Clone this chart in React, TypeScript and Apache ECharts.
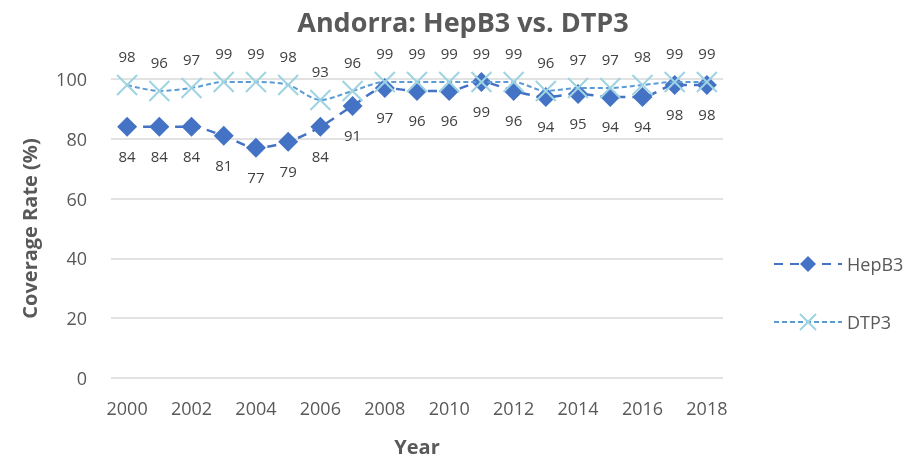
import React, { useEffect, useRef } from "react";
import * as echarts from "echarts";

const years = ["2000","2001","2002","2003","2004","2005","2006","2007","2008","2009","2010","2011","2012","2013","2014","2015","2016","2017","2018"];
const hepB3 = [84,84,84,81,77,79,84,91,97,96,96,99,96,94,95,94,94,98,98];
const dtp3 = [98,96,97,99,99,98,93,96,99,99,99,99,99,96,97,97,98,99,99];

const FONT = "'Open Sans', 'Noto Sans', sans-serif";

export default function App() {
  const ref = useRef<HTMLDivElement>(null);
  useEffect(() => {
    if (!ref.current) return;
    const chart = echarts.init(ref.current, undefined, { renderer: "svg" });
    chart.setOption({
      animation: false,
      textStyle: { fontFamily: FONT },
      title: {
        text: "Andorra: HepB3 vs. DTP3",
        left: 458,
        top: 3,
        textAlign: "center",
        textStyle: { fontSize: 27, fontWeight: "bold", color: "#595959", fontFamily: FONT },
      },
      grid: { left: 111, right: 191, top: 79, bottom: 84 },
      legend: {
        orient: "vertical",
        left: 768,
        top: 250,
        itemGap: 40,
        itemWidth: 68,
        itemHeight: 20,
        textStyle: { fontSize: 18, color: "#595959", fontFamily: FONT },
        data: ["HepB3", "DTP3"],
      },
      xAxis: {
        type: "category",
        data: years,
        boundaryGap: true,
        name: "Year",
        nameLocation: "middle",
        nameGap: 58,
        nameTextStyle: { fontSize: 20, fontWeight: "bold", color: "#595959" },
        axisLine: { show: false },
        axisTick: { show: false },
        axisLabel: { interval: 1, fontSize: 18, color: "#595959", margin: 21 },
      },
      yAxis: {
        type: "value",
        min: 0,
        max: 100,
        interval: 20,
        name: "Coverage Rate (%)",
        nameLocation: "middle",
        nameGap: 72,
        nameTextStyle: { fontSize: 20, fontWeight: "bold", color: "#595959" },
        axisLabel: { fontSize: 18, color: "#595959", margin: 24 },
        splitLine: { lineStyle: { color: "#D9D9D9", width: 1.5 } },
      },
      series: [
        {
          name: "HepB3",
          type: "line",
          data: hepB3,
          smooth: 0.3,
          symbol: "diamond",
          symbolSize: 20,
          itemStyle: { color: "#4472C4" },
          lineStyle: { color: "#4472C4", width: 2.5, type: [9, 7] },
          label: { show: true, position: "bottom", distance: 12, fontSize: 15, color: "#404040" },
          z: 2,
        },
        {
          name: "DTP3",
          type: "line",
          data: dtp3,
          smooth: 0.3,
          symbol: "path://M0,0L10,10M10,0L0,10",
          symbolSize: 20,
          itemStyle: { color: "rgba(0,0,0,0)", borderColor: "#9DD3E2", borderWidth: 2 },
          lineStyle: { color: "#5B9BD5", width: 2, type: [5, 3] },
          label: { show: true, position: "top", distance: 10, fontSize: 15, color: "#404040" },
          z: 3,
        },
      ],
    });
    return () => chart.dispose();
  }, []);
  return <div ref={ref} style={{ position: "fixed", left: 0, top: 0, width: 914, height: 462 }} />;
}
